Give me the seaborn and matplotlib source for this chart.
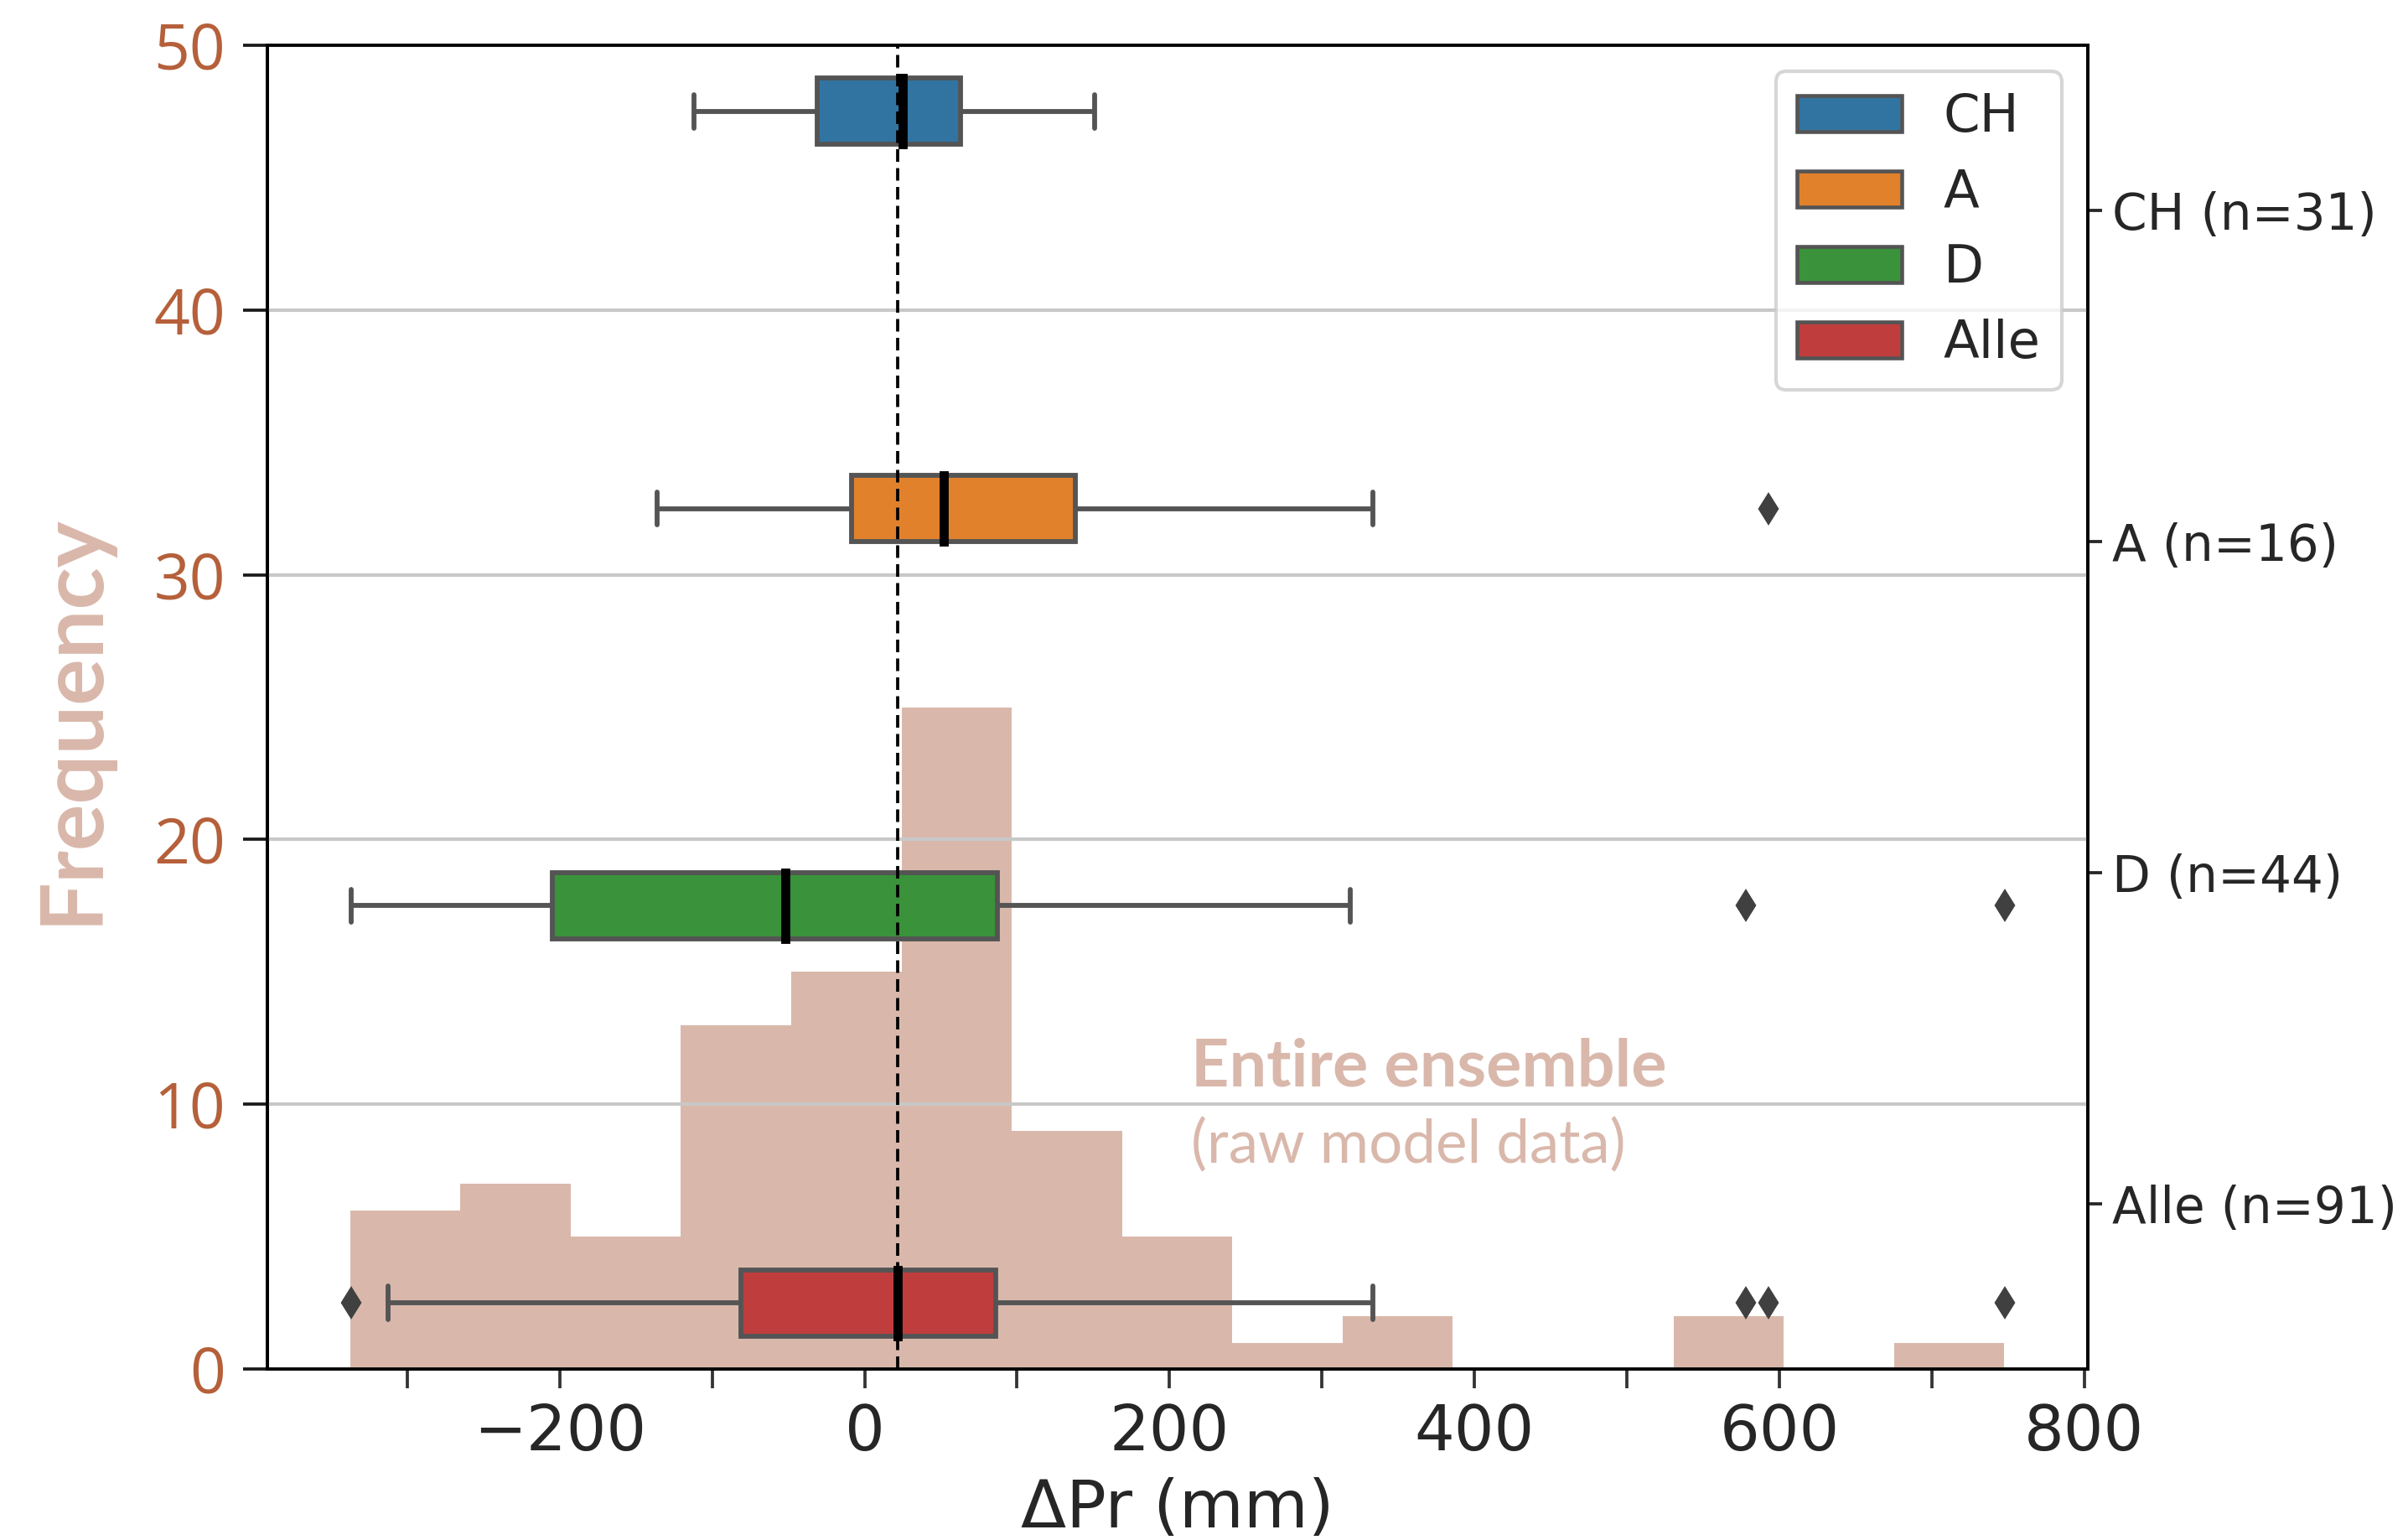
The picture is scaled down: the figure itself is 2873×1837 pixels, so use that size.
import numpy as np
import pandas as pd
import matplotlib
matplotlib.use("Agg")
import matplotlib.pyplot as plt
from matplotlib.ticker import MultipleLocator
from matplotlib.patches import Patch
import seaborn as sns

# ---------------- data ----------------
# histogram of the entire ensemble (raw model data), 15 equal bins
hist_range = (-337.5, 747.5)
hist_counts = [6, 7, 5, 13, 15, 25, 9, 5, 1, 2, 0, 0, 2, 0, 1]

# box-plot statistics per region (ΔPr in mm)
regions = ["CH", "A", "D", "Alle"]
n_models = [31, 16, 44, 91]
whisker_low = [-112, -136, -337, -312.6]
box_q1 = [-31, -8.5, -205, -81]
box_median = [25, 52, -52, 21.8]
box_q3 = [63, 138, 87, 86]
whisker_high = [151, 333.5, 318.6, 333.5]
fliers_low = [[], [], [], [-337]]
fliers_high = [[], [593], [578, 748], [578, 593, 748]]

# ---------------- style ----------------
TAN = "#d9b8ab"
SIENNA = "#b5603a"
sns.set_theme(style="ticks")
plt.rcParams["font.family"] = ["DejaVu Sans"]
plt.rcParams["axes.edgecolor"] = "black"
plt.rcParams["axes.linewidth"] = 0.9

# long-form table for seaborn.boxplot, built from the statistics above
# (blocks of repeated quartile values so the computed quartiles equal the read ones)
rows = []
for r, lo, q1, med, q3, hi, fl, fh in zip(regions, whisker_low, box_q1, box_median,
                                           box_q3, whisker_high, fliers_low, fliers_high):
    vals = list(fl) + [lo] + [q1] * 10 + [med] * 10 + [q3] * 10 + [hi] + list(fh)
    rows += [(r, v) for v in vals]
df = pd.DataFrame(rows, columns=["region", "dpr"])

edges = np.linspace(hist_range[0], hist_range[1], len(hist_counts) + 1)
centers = (edges[:-1] + edges[1:]) / 2

fig = plt.figure(figsize=(2873 / 300, 1837 / 300), dpi=300)
ax = fig.add_axes([0.111, 0.111, 0.756, 0.8596])

sns.histplot(x=centers, weights=hist_counts, bins=len(hist_counts), binrange=hist_range,
             color=TAN, alpha=1.0, linewidth=0, ax=ax)
ax.set_ylim(0, 50)
ax.set_axisbelow(False)
ax.grid(axis="y", color="#c8c8c8", linewidth=1.0)
ax.grid(axis="x", visible=False)

ax.xaxis.set_major_locator(MultipleLocator(200))
ax.xaxis.set_minor_locator(MultipleLocator(100))
ax.tick_params(axis="x", which="both", length=5.5, width=0.9, color="0.2",
               labelsize=18, pad=4)
ax.yaxis.set_major_locator(MultipleLocator(10))
ax.tick_params(axis="y", length=7, width=0.9, color="0.1", labelsize=18,
               labelcolor=SIENNA, labelfontfamily="Open Sans", pad=5)
ax.set_xlabel("ΔPr (mm)", fontsize=19, labelpad=4)
ax.set_ylabel("Frequency", fontsize=25, fontweight="bold", color=TAN,
              family="Lato", va="center")
ax.yaxis.set_label_coords(-0.1073, 0.491)

ax.text(214, 11.4, "Entire ensemble", fontsize=19, fontweight="bold",
        family="Lato", color=TAN, va="center", ha="left")
ax.text(214, 8.45, "(raw model data)", fontsize=17, family="Lato",
        color=TAN, va="center", ha="left")

# ---------------- box plots on twin axis ----------------
palette = dict(zip(regions, sns.color_palette("tab10", len(regions))))
ax2 = ax.twinx()
sns.boxplot(data=df, x="dpr", y="region", hue="region", order=regions,
            hue_order=regions, palette=palette, dodge=True, width=0.8, gap=0,
            saturation=0.75, linecolor="0.33", linewidth=1.4, fliersize=5.5,
            flierprops=dict(marker="d", markerfacecolor="0.25",
                            markeredgecolor="0.25"),
            medianprops=dict(color="black", linewidth=2.6,
                             solid_capstyle="projecting"),
            legend=False, ax=ax2)
ax2.axvline(np.median(df.loc[df.region == "Alle", "dpr"]), color="black",
            linestyle=(0, (4, 2)), linewidth=0.9, zorder=10)
ax2.set_yticks(range(len(regions)))
ax2.set_yticklabels([f"{r} (n={n})" for r, n in zip(regions, n_models)])
ax2.set_ylabel("")
ax2.set_xlabel("")
ax2.tick_params(axis="y", length=4, width=0.9, labelsize=14.3, pad=3)
ax2.grid(False)

handles = [Patch(facecolor=sns.desaturate(palette[r], 0.75), edgecolor="0.33",
                 linewidth=1.1, label=r) for r in regions]
ax2.legend(handles=handles, loc="upper right", fontsize=15, frameon=True,
           labelspacing=0.48, borderaxespad=0.5, handlelength=2.0,
           handleheight=0.7, handletextpad=0.8)

fig.savefig("out.png", dpi=300)
